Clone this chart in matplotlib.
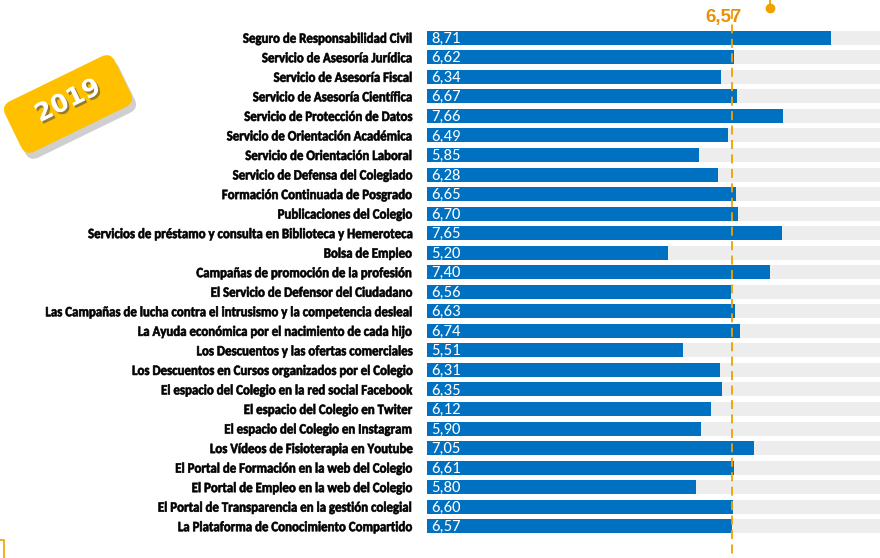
import numpy as np
import matplotlib.pyplot as plt
from matplotlib.patches import FancyBboxPatch
from matplotlib.patheffects import AbstractPathEffect
import matplotlib.patheffects as pe
import matplotlib.transforms as mtransforms

servicios = [
    "Seguro de Responsabilidad Civil",
    "Servicio de Asesoría Jurídica",
    "Servicio de Asesoría Fiscal",
    "Servicio de Asesoría Científica",
    "Servicio de Protección de Datos",
    "Servicio de Orientación Académica",
    "Servicio de Orientación Laboral",
    "Servicio de Defensa del Colegiado",
    "Formación Continuada de Posgrado",
    "Publicaciones del Colegio",
    "Servicios de préstamo y consulta en Biblioteca y Hemeroteca",
    "Bolsa de Empleo",
    "Campañas de promoción de la profesión",
    "El Servicio de Defensor del Ciudadano",
    "Las Campañas de lucha contra el intrusismo y la competencia desleal",
    "La Ayuda económica por el nacimiento de cada hijo",
    "Los Descuentos y las ofertas comerciales",
    "Los Descuentos en Cursos organizados por el Colegio",
    "El espacio del Colegio en la red social Facebook",
    "El espacio del Colegio en Twiter",
    "El espacio del Colegio en Instagram",
    "Los Vídeos de Fisioterapia en Youtube",
    "El Portal de Formación en la web del Colegio",
    "El Portal de Empleo en la web del Colegio",
    "El Portal de Transparencia en la gestión colegial",
    "La Plataforma de Conocimiento Compartido",
]
notas = [8.71, 6.62, 6.34, 6.67, 7.66, 6.49, 5.85, 6.28, 6.65, 6.70, 7.65, 5.20, 7.40,
         6.56, 6.63, 6.74, 5.51, 6.31, 6.35, 6.12, 5.90, 7.05, 6.61, 5.80, 6.60, 6.57]
media = 6.57
maximo = 10

azul = "#0070C0"
naranja = "#F0A000"
fuente = ["Carlito", "DejaVu Sans"]


class Estrechar(AbstractPathEffect):
    """Comprime el texto en horizontal alrededor de x0 (pixeles) y lo engrosa un poco"""
    def __init__(self, sx, x0, grosor=0.0, color="black"):
        super().__init__()
        self.sx, self.x0 = sx, x0
        self.grosor, self.color = grosor, color

    def draw_path(self, renderer, gc, tpath, affine, rgbFace=None):
        t = affine + mtransforms.Affine2D().translate(-self.x0, 0).scale(self.sx, 1).translate(self.x0, 0)
        gc0 = renderer.new_gc()
        gc0.copy_properties(gc)
        if self.grosor > 0:
            gc0.set_linewidth(self.grosor)
            gc0.set_foreground(self.color)
        renderer.draw_path(gc0, tpath, t, rgbFace)
        gc0.restore()


fig = plt.figure(figsize=(8.8, 5.58), dpi=100)
x_eje = 427
ax = fig.add_axes([x_eje / 880, 1 - 536 / 558, 1 - x_eje / 880, (536 - 28) / 558])

y = np.arange(len(servicios))
ax.barh(y, [maximo] * len(y), height=0.72, color="#EDEDED", left=0)
ax.barh(y, notas, height=0.72, color=azul)
for yi, v in zip(y, notas):
    t = ax.text(0.1, yi + 0.05, f"{v:.2f}".replace(".", ","), color="white", fontsize=12,
                va="center", ha="left", family=fuente)

ax.set_xlim(0, 9.76)
ax.set_ylim(len(y) - 0.5, -0.5)
ax.set_yticks(y)
pad = 11
ax.set_yticklabels(servicios, fontsize=10.3, fontweight="bold", family=fuente)
ax.tick_params(axis="y", length=0, pad=pad)
x0 = x_eje - pad * fig.dpi / 72
for lab in ax.get_yticklabels():
    lab.set_path_effects([Estrechar(0.9, x0, grosor=0.45)])
ax.set_xticks([])
for s in ax.spines.values():
    s.set_visible(False)

# linea de la media
ax.plot([media, media], [-1.4, len(y) + 0.9], ls=(0, (5, 3)), color=naranja, lw=1.3,
        clip_on=False, zorder=3)
ax.plot([media], [len(y) + 0.9], "o", color=naranja, ms=5, clip_on=False, zorder=3)
ax.text(media - 0.17, -1.05, f"{media:.2f}".replace(".", ","), color="#E8900A",
        fontsize=13.5, fontweight="bold", ha="center", va="center",
        family=["Liberation Sans", "DejaVu Sans"])
ax.plot([7.38, 7.38], [-2.6, -1.5], color=naranja, lw=1.3, clip_on=False)
ax.plot([7.38], [-1.5], "o", color=naranja, ms=6, clip_on=False)

# etiqueta 2019
fax = fig.add_axes([0, 0, 1, 1], facecolor="none")
fax.set_xlim(0, 880)
fax.set_ylim(558, 0)
fax.axis("off")
giro = mtransforms.Affine2D().rotate_deg_around(68, 104, -26)
caja = (7, 76, 122, 56)
sombra = FancyBboxPatch(caja[:2], caja[2], caja[3], boxstyle="round,pad=0,rounding_size=10",
                        fc="#00000030", ec="none",
                        transform=giro + mtransforms.Affine2D().translate(4, 6) + fax.transData)
fax.add_patch(sombra)
badge = FancyBboxPatch(caja[:2], caja[2], caja[3], boxstyle="round,pad=0,rounding_size=10",
                       fc="#FFC000", ec="none", transform=giro + fax.transData)
fax.add_patch(badge)
fax.text(68, 101, "2019", color="white", fontsize=18, fontweight="bold", rotation=26,
         ha="center", va="center", family=["DejaVu Sans"],
         path_effects=[pe.withSimplePatchShadow(offset=(1.5, -1.5), alpha=0.6)])
fax.plot([0, 4, 4], [540, 540, 558], color=naranja, lw=1.2)

fig.savefig("out.png", dpi=100)
